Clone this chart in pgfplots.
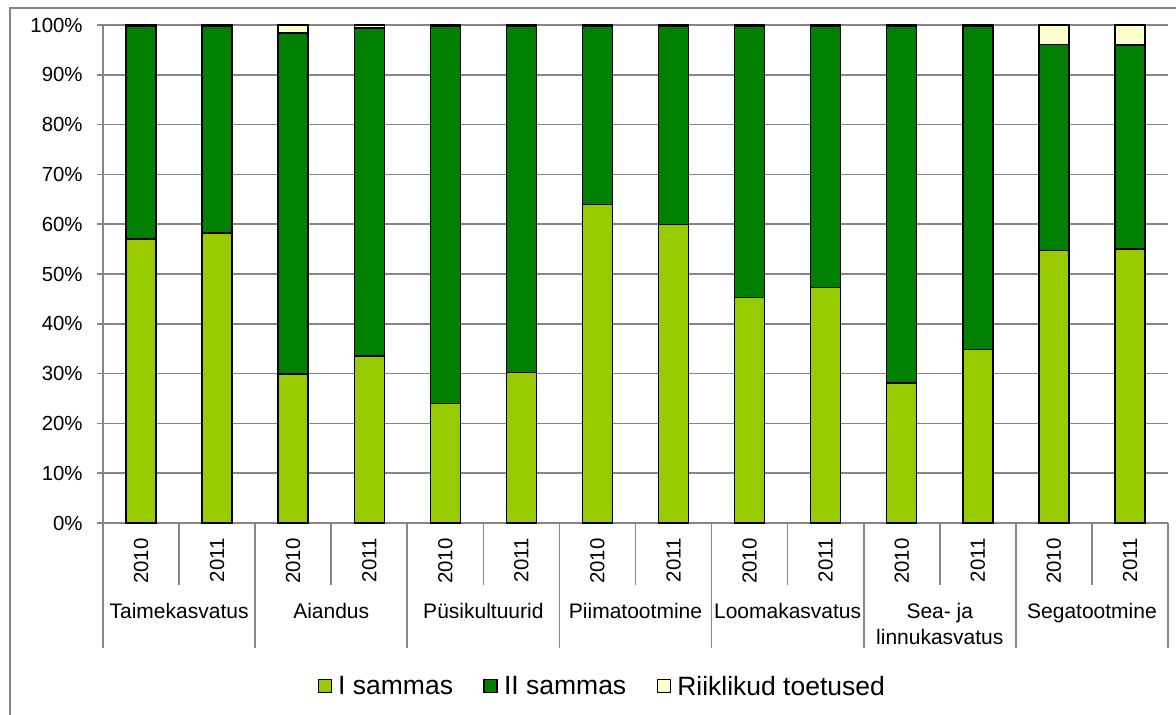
\documentclass[border=0pt]{standalone}
\usepackage{pgfplots}
\usepackage{pgfplotstable}
\pgfplotsset{compat=1.18}
\usepackage{fontspec}
\setmainfont{Liberation Sans}
\definecolor{sOne}{HTML}{99CC00}
\definecolor{sTwo}{HTML}{008000}
\definecolor{sThree}{HTML}{FFFFCC}
\definecolor{lineg}{HTML}{868686}

\pgfplotstableread{
x I II R
0 57.0 42.7 0.3
1 58.2 41.6 0.2
2 29.9 68.5 1.6
3 33.5 65.9 0.6
4 24.0 75.8 0.2
5 30.2 69.6 0.2
6 64.0 35.7 0.3
7 59.9 39.9 0.2
8 45.3 54.5 0.2
9 47.3 52.5 0.2
10 28.1 71.7 0.2
11 34.9 64.9 0.2
12 54.7 41.4 3.9
13 55.0 41.0 4.0
}\data

\pgfplotsset{sq legend/.style={legend image code/.code={\draw[##1,draw=black,line width=0.6pt] (0pt,-2.7pt) rectangle (6.5pt,3.8pt);}}}

\begin{document}
\begin{tikzpicture}
\begin{axis}[
  at={(51.5pt,95.5pt)}, anchor=south west,
  width=532.5pt, height=249pt, scale only axis,
  ybar stacked, bar width=15pt,
  xmin=-0.5, xmax=13.5, ymin=0, ymax=100,
  axis x line*=bottom, axis y line*=left,
  axis line style={lineg, line width=0.8pt},
  ymajorgrids, grid style={lineg, line width=0.8pt},
  ytick={0,10,...,100},
  yticklabels={0\%,10\%,20\%,30\%,40\%,50\%,60\%,70\%,80\%,90\%,100\%},
  xtick={0,...,13},
  xticklabels={2010,2011,2010,2011,2010,2011,2010,2011,2010,2011,2010,2011,2010,2011},
  xtick style={draw=none},
  ytick style={lineg, line width=0.8pt},
  tick align=outside, major tick length=3pt,
  yticklabel style={font=\fontsize{10.2}{12}\selectfont, inner sep=0pt, xshift=-7pt},
  xticklabel style={font=\fontsize{10.2}{12}\selectfont, rotate=90, anchor=east, inner sep=0pt, xshift=-4.5pt},
  clip=false,
  legend columns=3,
  legend style={at={(0.4690,-0.3293)}, anchor=center, draw=none, fill=none,
    font=\fontsize{13.25}{15}\selectfont,
    /tikz/every odd column/.append style={column sep=2pt},
    /tikz/every even column/.append style={column sep=14pt},
    nodes={inner sep=1.2pt}},
]
\addplot[fill=sOne, draw=black, line width=0.7pt, sq legend] table[x=x,y=I]{\data};
\addplot[fill=sTwo, draw=black, line width=0.7pt, sq legend] table[x=x,y=II]{\data};
\addplot[fill=sThree, draw=black, line width=0.7pt, sq legend] table[x=x,y=R]{\data};
\legend{I sammas, II sammas, Riiklikud toetused}

\pgfplotsinvokeforeach{0.5,2.5,4.5,6.5,8.5,10.5,12.5}{\draw[lineg,line width=0.8pt] (axis cs:#1,0) -- ++(0pt,-31pt);}
\pgfplotsinvokeforeach{-0.5,1.5,3.5,5.5,7.5,9.5,11.5,13.5}{\draw[lineg,line width=0.8pt] (axis cs:#1,0) -- ++(0pt,-62.5pt);}

\node[font=\fontsize{10.5}{12}\selectfont, anchor=base, yshift=-47.5pt] at (axis cs:0.5,0) {Taimekasvatus};
\node[font=\fontsize{10.5}{12}\selectfont, anchor=base, yshift=-47.5pt] at (axis cs:2.5,0) {Aiandus};
\node[font=\fontsize{10.5}{12}\selectfont, anchor=base, yshift=-47.5pt] at (axis cs:4.5,0) {Püsikultuurid};
\node[font=\fontsize{10.5}{12}\selectfont, anchor=base, yshift=-47.5pt] at (axis cs:6.5,0) {Piimatootmine};
\node[font=\fontsize{10.5}{12}\selectfont, anchor=base, yshift=-47.5pt] at (axis cs:8.5,0) {Loomakasvatus};
\node[font=\fontsize{10.5}{12}\selectfont, anchor=base, yshift=-47.5pt] at (axis cs:10.5,0) {Sea- ja};
\node[font=\fontsize{10.5}{12}\selectfont, anchor=base, yshift=-60.5pt] at (axis cs:10.5,0) {linnukasvatus};
\node[font=\fontsize{10.5}{12}\selectfont, anchor=base, yshift=-47.5pt] at (axis cs:12.5,0) {Segatootmine};
\end{axis}
\draw[lineg, line width=1pt] (5pt,-2pt) -- (5pt,353pt) -- (590pt,353pt);
\pgfresetboundingbox
\path[use as bounding box] (0,0) rectangle (588pt,357pt);
\end{tikzpicture}
\end{document}
